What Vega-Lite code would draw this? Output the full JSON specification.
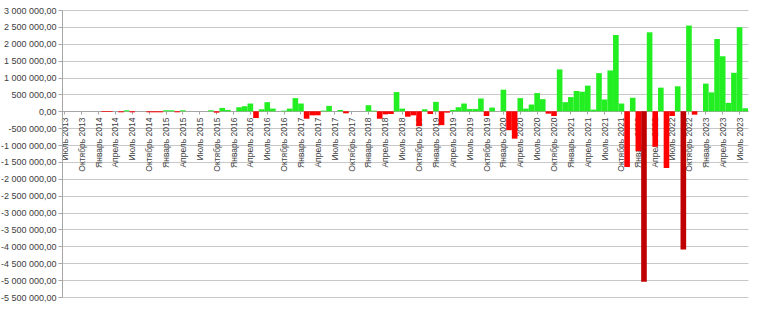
{
  "$schema": "https://vega.github.io/schema/vega-lite/v6.json",
  "width": 686,
  "height": 287,
  "autosize": "none",
  "padding": {"left": 62, "top": 10, "right": 10, "bottom": 12},
  "background": "white",
  "config": {
    "locale": {"number": {"decimal": ",", "thousands": " ", "grouping": [3], "currency": ["", ""], "minus": "-"}},
    "view": {"stroke": null},
    "font": "Liberation Sans"
  },
  "data": {"values": [
    {"m": "Июль 2013", "v": 0, "c": "pos"},
    {"m": "Август 2013", "v": 0, "c": "pos"},
    {"m": "Сентябрь 2013", "v": 0, "c": "pos"},
    {"m": "Октябрь 2013", "v": 0, "c": "pos"},
    {"m": "Ноябрь 2013", "v": 0, "c": "pos"},
    {"m": "Декабрь 2013", "v": 0, "c": "pos"},
    {"m": "Январь 2014", "v": 0, "c": "pos"},
    {"m": "Февраль 2014", "v": -20000, "c": "neg"},
    {"m": "Март 2014", "v": -20000, "c": "neg"},
    {"m": "Апрель 2014", "v": 0, "c": "pos"},
    {"m": "Май 2014", "v": -30000, "c": "neg"},
    {"m": "Июнь 2014", "v": 30000, "c": "pos"},
    {"m": "Июль 2014", "v": -30000, "c": "neg"},
    {"m": "Август 2014", "v": 0, "c": "pos"},
    {"m": "Сентябрь 2014", "v": 0, "c": "pos"},
    {"m": "Октябрь 2014", "v": -30000, "c": "neg"},
    {"m": "Ноябрь 2014", "v": -30000, "c": "neg"},
    {"m": "Декабрь 2014", "v": -30000, "c": "neg"},
    {"m": "Январь 2015", "v": 30000, "c": "pos"},
    {"m": "Февраль 2015", "v": 30000, "c": "pos"},
    {"m": "Март 2015", "v": -30000, "c": "neg"},
    {"m": "Апрель 2015", "v": 30000, "c": "pos"},
    {"m": "Май 2015", "v": 0, "c": "pos"},
    {"m": "Июнь 2015", "v": 0, "c": "pos"},
    {"m": "Июль 2015", "v": 0, "c": "pos"},
    {"m": "Август 2015", "v": 0, "c": "pos"},
    {"m": "Сентябрь 2015", "v": 30000, "c": "pos"},
    {"m": "Октябрь 2015", "v": -40000, "c": "neg"},
    {"m": "Ноябрь 2015", "v": 100000, "c": "pos"},
    {"m": "Декабрь 2015", "v": 40000, "c": "pos"},
    {"m": "Январь 2016", "v": 0, "c": "pos"},
    {"m": "Февраль 2016", "v": 120000, "c": "pos"},
    {"m": "Март 2016", "v": 150000, "c": "pos"},
    {"m": "Апрель 2016", "v": 230000, "c": "pos"},
    {"m": "Май 2016", "v": -200000, "c": "neg"},
    {"m": "Июнь 2016", "v": 60000, "c": "pos"},
    {"m": "Июль 2016", "v": 270000, "c": "pos"},
    {"m": "Август 2016", "v": 80000, "c": "pos"},
    {"m": "Сентябрь 2016", "v": 0, "c": "pos"},
    {"m": "Октябрь 2016", "v": 20000, "c": "pos"},
    {"m": "Ноябрь 2016", "v": 80000, "c": "pos"},
    {"m": "Декабрь 2016", "v": 390000, "c": "pos"},
    {"m": "Январь 2017", "v": 230000, "c": "pos"},
    {"m": "Февраль 2017", "v": -220000, "c": "neg"},
    {"m": "Март 2017", "v": -120000, "c": "neg"},
    {"m": "Апрель 2017", "v": -120000, "c": "neg"},
    {"m": "Май 2017", "v": 20000, "c": "pos"},
    {"m": "Июнь 2017", "v": 160000, "c": "pos"},
    {"m": "Июль 2017", "v": 0, "c": "pos"},
    {"m": "Август 2017", "v": 40000, "c": "pos"},
    {"m": "Сентябрь 2017", "v": -60000, "c": "neg"},
    {"m": "Октябрь 2017", "v": 0, "c": "pos"},
    {"m": "Ноябрь 2017", "v": 0, "c": "pos"},
    {"m": "Декабрь 2017", "v": 0, "c": "pos"},
    {"m": "Январь 2018", "v": 180000, "c": "pos"},
    {"m": "Февраль 2018", "v": 20000, "c": "pos"},
    {"m": "Март 2018", "v": -220000, "c": "neg"},
    {"m": "Апрель 2018", "v": -90000, "c": "neg"},
    {"m": "Май 2018", "v": -80000, "c": "neg"},
    {"m": "Июнь 2018", "v": 570000, "c": "pos"},
    {"m": "Июль 2018", "v": 80000, "c": "pos"},
    {"m": "Август 2018", "v": -160000, "c": "neg"},
    {"m": "Сентябрь 2018", "v": -120000, "c": "neg"},
    {"m": "Октябрь 2018", "v": -440000, "c": "neg"},
    {"m": "Ноябрь 2018", "v": 60000, "c": "pos"},
    {"m": "Декабрь 2018", "v": -80000, "c": "neg"},
    {"m": "Январь 2019", "v": 280000, "c": "pos"},
    {"m": "Февраль 2019", "v": -410000, "c": "neg"},
    {"m": "Март 2019", "v": -40000, "c": "neg"},
    {"m": "Апрель 2019", "v": 40000, "c": "pos"},
    {"m": "Май 2019", "v": 120000, "c": "pos"},
    {"m": "Июнь 2019", "v": 230000, "c": "pos"},
    {"m": "Июль 2019", "v": 70000, "c": "pos"},
    {"m": "Август 2019", "v": 70000, "c": "pos"},
    {"m": "Сентябрь 2019", "v": 380000, "c": "pos"},
    {"m": "Октябрь 2019", "v": -140000, "c": "neg"},
    {"m": "Ноябрь 2019", "v": 110000, "c": "pos"},
    {"m": "Декабрь 2019", "v": 0, "c": "pos"},
    {"m": "Январь 2020", "v": 640000, "c": "pos"},
    {"m": "Февраль 2020", "v": -560000, "c": "neg"},
    {"m": "Март 2020", "v": -810000, "c": "neg"},
    {"m": "Апрель 2020", "v": 390000, "c": "pos"},
    {"m": "Май 2020", "v": 80000, "c": "pos"},
    {"m": "Июнь 2020", "v": 200000, "c": "pos"},
    {"m": "Июль 2020", "v": 540000, "c": "pos"},
    {"m": "Август 2020", "v": 360000, "c": "pos"},
    {"m": "Сентябрь 2020", "v": -70000, "c": "neg"},
    {"m": "Октябрь 2020", "v": -140000, "c": "neg"},
    {"m": "Ноябрь 2020", "v": 1240000, "c": "pos"},
    {"m": "Декабрь 2020", "v": 270000, "c": "pos"},
    {"m": "Январь 2021", "v": 420000, "c": "pos"},
    {"m": "Февраль 2021", "v": 600000, "c": "pos"},
    {"m": "Март 2021", "v": 580000, "c": "pos"},
    {"m": "Апрель 2021", "v": 760000, "c": "pos"},
    {"m": "Май 2021", "v": 50000, "c": "pos"},
    {"m": "Июнь 2021", "v": 1130000, "c": "pos"},
    {"m": "Июль 2021", "v": 350000, "c": "pos"},
    {"m": "Август 2021", "v": 1210000, "c": "pos"},
    {"m": "Сентябрь 2021", "v": 2260000, "c": "pos"},
    {"m": "Октябрь 2021", "v": 230000, "c": "pos"},
    {"m": "Ноябрь 2021", "v": -1650000, "c": "neg"},
    {"m": "Декабрь 2021", "v": 400000, "c": "pos"},
    {"m": "Январь 2022", "v": -1180000, "c": "neg"},
    {"m": "Февраль 2022", "v": -5050000, "c": "big"},
    {"m": "Март 2022", "v": 2340000, "c": "pos"},
    {"m": "Апрель 2022", "v": -1050000, "c": "neg"},
    {"m": "Май 2022", "v": 700000, "c": "pos"},
    {"m": "Июнь 2022", "v": -1680000, "c": "neg"},
    {"m": "Июль 2022", "v": -140000, "c": "neg"},
    {"m": "Август 2022", "v": 740000, "c": "pos"},
    {"m": "Сентябрь 2022", "v": -4090000, "c": "big"},
    {"m": "Октябрь 2022", "v": 2540000, "c": "pos"},
    {"m": "Ноябрь 2022", "v": -100000, "c": "neg"},
    {"m": "Декабрь 2022", "v": 0, "c": "pos"},
    {"m": "Январь 2023", "v": 820000, "c": "pos"},
    {"m": "Февраль 2023", "v": 560000, "c": "pos"},
    {"m": "Март 2023", "v": 2140000, "c": "pos"},
    {"m": "Апрель 2023", "v": 1630000, "c": "pos"},
    {"m": "Май 2023", "v": 250000, "c": "pos"},
    {"m": "Июнь 2023", "v": 1140000, "c": "pos"},
    {"m": "Июль 2023", "v": 2490000, "c": "pos"},
    {"m": "Август 2023", "v": 90000, "c": "pos"}
  ]},
  "mark": {"type": "bar"},
  "encoding": {
    "x": {
      "field": "m", "type": "ordinal", "sort": null,
      "scale": {"paddingInner": 0, "paddingOuter": 0},
      "axis": {
        "title": null,
        "offset": -186,
        "labelAngle": -90,
        "labelFontSize": 8.5,
        "labelColor": "#404040",
        "labelPadding": 3,
        "tickColor": "#A6A6A6",
        "tickSize": 3,
        "domainColor": "#A6A6A6",
        "grid": false,
        "values": ["Июль 2013", "Октябрь 2013", "Январь 2014", "Апрель 2014", "Июль 2014", "Октябрь 2014", "Январь 2015", "Апрель 2015", "Июль 2015", "Октябрь 2015", "Январь 2016", "Апрель 2016", "Июль 2016", "Октябрь 2016", "Январь 2017", "Апрель 2017", "Июль 2017", "Октябрь 2017", "Январь 2018", "Апрель 2018", "Июль 2018", "Октябрь 2018", "Январь 2019", "Апрель 2019", "Июль 2019", "Октябрь 2019", "Январь 2020", "Апрель 2020", "Июль 2020", "Октябрь 2020", "Январь 2021", "Апрель 2021", "Июль 2021", "Октябрь 2021", "Январь 2022", "Апрель 2022", "Июль 2022", "Октябрь 2022", "Январь 2023", "Апрель 2023", "Июль 2023"]
      }
    },
    "y": {
      "field": "v", "type": "quantitative",
      "scale": {"domain": [-5500000, 3000000], "nice": false, "zero": true},
      "axis": {
        "title": null,
        "format": ",.2f",
        "values": [-5500000, -5000000, -4500000, -4000000, -3500000, -3000000, -2500000, -2000000, -1500000, -1000000, -500000, 0, 500000, 1000000, 1500000, 2000000, 2500000, 3000000],
        "labelFontSize": 9,
        "labelColor": "#404040",
        "labelPadding": 2,
        "tickSize": 4,
        "tickColor": "#A6A6A6",
        "domainColor": "#A6A6A6",
        "gridColor": "#C8C8C8",
        "gridWidth": 1
      }
    },
    "color": {
      "field": "c", "type": "nominal",
      "scale": {"domain": ["pos", "neg", "big"], "range": ["#22EE22", "#FF0000", "#C00000"]},
      "legend": null
    }
  }
}
